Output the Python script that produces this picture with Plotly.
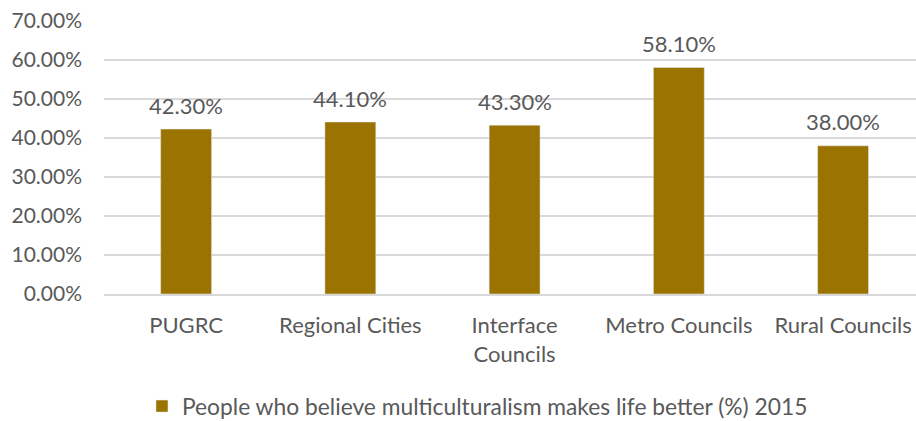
import plotly.graph_objects as go

categories = ["PUGRC", "Regional Cities", "Interface<br>Councils", "Metro Councils", "Rural Councils"]
values = [0.423, 0.441, 0.433, 0.581, 0.380]
series_name = "People who believe multiculturalism makes life better (%) 2015"

font_family = "Lato, 'Open Sans', sans-serif"
txt_color = "#595959"
bar_color = "#9A7300"

fig = go.Figure(go.Bar(
    x=categories, y=values, name=series_name,
    marker_color=bar_color,
    showlegend=True,
))

for c, v in zip(categories, values):
    fig.add_annotation(x=c, y=v, text=f"{v*100:.2f}%", showarrow=False,
                       yanchor="middle", yshift=24,
                       font=dict(size=22, color=txt_color, family=font_family))

fig.update_layout(
    width=916, height=421,
    margin=dict(l=104, r=0, t=21, b=127),
    plot_bgcolor="white", paper_bgcolor="white",
    bargap=0.69,
    font=dict(family=font_family, size=22, color=txt_color),
    yaxis=dict(range=[0, 0.7], dtick=0.1, tickformat=".2%",
               gridcolor="#D9D9D9", gridwidth=1.5, zeroline=False,
               showline=False, ticks="", ticklen=0, automargin=False,
               ticklabelstandoff=21,
               tickfont=dict(size=21, color=txt_color)),
    xaxis=dict(showline=True, linecolor="#D9D9D9", linewidth=1.5,
               range=[-0.5, 4.444], automargin=False,
               ticklabelstandoff=11,
               tickfont=dict(size=22, color=txt_color), tickangle=0),
    legend=dict(orientation="h", xref="container", yref="container",
                x=0.155, xanchor="left", y=0.035, yanchor="middle",
                font=dict(size=22.8, color=txt_color)),
)

fig.write_html("out.html", config={"displayModeBar": False},
               post_script="document.body.style.margin='0';")
